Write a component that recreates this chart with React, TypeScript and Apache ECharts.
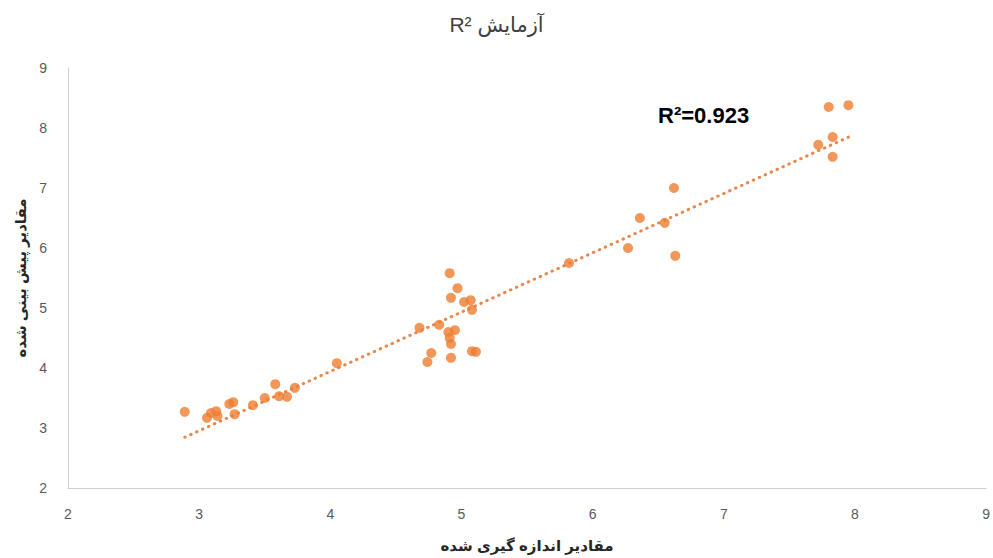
import React, { useEffect, useRef } from "react";
import * as echarts from "echarts";

const measured: number[] = [
  2.89, 3.06, 3.09, 3.13, 3.14, 3.23, 3.26, 3.27, 3.41, 3.5, 3.58, 3.61, 3.67, 3.73,
  4.05, 4.68, 4.74, 4.77, 4.83, 4.91, 4.92, 4.9, 4.91, 4.92, 4.92, 4.97, 4.95, 5.02,
  5.07, 5.08, 5.08, 5.11, 5.82, 6.27, 6.36, 6.55, 6.62, 6.63, 7.72, 7.8, 7.83, 7.83, 7.95,
];
const predicted: number[] = [
  3.27, 3.17, 3.25, 3.28, 3.2, 3.4, 3.43, 3.23, 3.38, 3.5, 3.73, 3.53, 3.52, 3.67,
  4.08, 4.67, 4.1, 4.25, 4.72, 5.58, 5.17, 4.6, 4.5, 4.4, 4.17, 5.33, 4.63, 5.1,
  5.13, 4.97, 4.28, 4.27, 5.75, 6.0, 6.5, 6.42, 7.0, 5.87, 7.72, 8.35, 7.85, 7.52, 8.38,
];
const xTicks = { min: 2, max: 9, interval: 1 };
const yTicks = { min: 2, max: 9, interval: 1 };
const titleText = "R² آزمایش";
const xName = "مقادیر اندازه گیری شده";
const yName = "مقادیر پیش بینی شده";
const r2Label = "R²=0.923";

const FONT = "'Liberation Sans', 'DejaVu Sans', sans-serif";

function regression(xs: number[], ys: number[]) {
  const n = xs.length;
  const mx = xs.reduce((a, b) => a + b, 0) / n;
  const my = ys.reduce((a, b) => a + b, 0) / n;
  let sxy = 0, sxx = 0;
  for (let i = 0; i < n; i++) {
    sxy += (xs[i] - mx) * (ys[i] - my);
    sxx += (xs[i] - mx) ** 2;
  }
  const b = sxy / sxx;
  return { a: my - b * mx, b };
}

export default function App() {
  const ref = useRef<HTMLDivElement>(null);
  useEffect(() => {
    if (!ref.current) return;
    const chart = echarts.init(ref.current, null, { renderer: "svg" });
    const { a, b } = regression(measured, predicted);
    const x0 = Math.min(...measured);
    const x1 = Math.max(...measured);
    const points = measured.map((x, i) => [x, predicted[i]]);
    chart.setOption({
      animation: false,
      backgroundColor: "#ffffff",
      title: {
        text: titleText,
        left: "center",
        top: 9,
        textStyle: { fontFamily: FONT, fontSize: 21, fontWeight: "normal", color: "#404040" },
      },
      grid: { left: 68, right: 5, top: 68, bottom: 70 },
      xAxis: {
        type: "value",
        min: xTicks.min,
        max: xTicks.max,
        interval: xTicks.interval,
        name: xName,
        nameLocation: "middle",
        nameGap: 50,
        nameTextStyle: { fontFamily: FONT, fontSize: 15, fontWeight: "bold", color: "#262626" },
        axisLine: { show: true, lineStyle: { color: "#d0d0d0", width: 1 } },
        axisTick: { show: false },
        splitLine: { show: false },
        axisLabel: { fontFamily: FONT, fontSize: 14, color: "#595959", margin: 19 },
      },
      yAxis: {
        type: "value",
        min: yTicks.min,
        max: yTicks.max,
        interval: yTicks.interval,
        name: yName,
        nameLocation: "middle",
        nameGap: 40,
        nameRotate: 90,
        nameTextStyle: { fontFamily: FONT, fontSize: 15, fontWeight: "bold", color: "#262626" },
        axisLine: { show: true, lineStyle: { color: "#d0d0d0", width: 1 } },
        axisTick: { show: false },
        splitLine: { show: false },
        axisLabel: { fontFamily: FONT, fontSize: 14, color: "#595959", margin: 21 },
      },
      series: [
        {
          type: "line",
          data: [
            [x0, a + b * x0],
            [x1, a + b * x1],
          ],
          showSymbol: false,
          symbol: "none",
          silent: true,
          lineStyle: { color: "#E9874A", width: 3, type: [0.5, 6], cap: "round" },
          z: 1,
        },
        {
          type: "scatter",
          data: points,
          symbol: "circle",
          symbolSize: 10,
          itemStyle: { color: "#ED7D31" },
          z: 2,
        },
      ],
      graphic: [
        {
          type: "text",
          left: 658,
          top: 104,
          style: {
            text: r2Label,
            fontFamily: FONT,
            fontSize: 22,
            fontWeight: "bold",
            fill: "#000000",
          },
        },
      ],
    });
    return () => chart.dispose();
  }, []);
  return <div ref={ref} style={{ position: "fixed", left: 0, top: 0, width: 993, height: 558 }} />;
}
